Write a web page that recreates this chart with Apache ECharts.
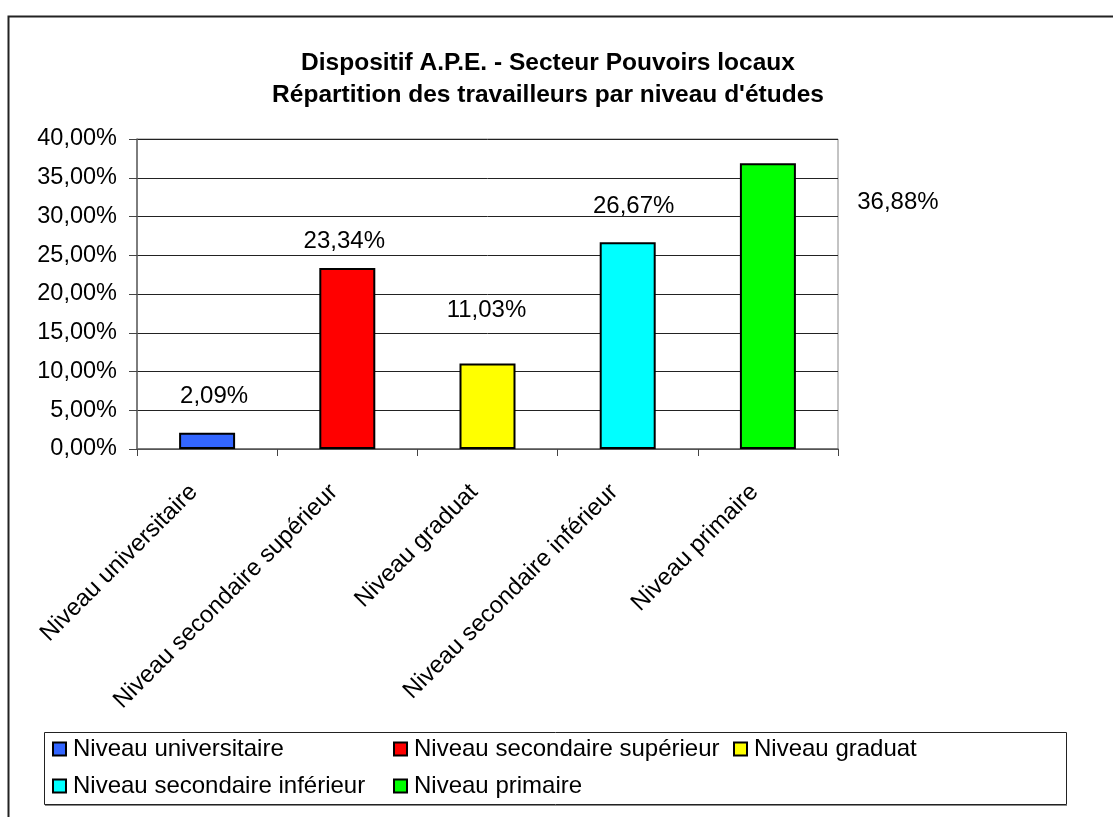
<!DOCTYPE html>
<html>
<head>
<meta charset="utf-8">
<script src="https://cdn.jsdelivr.net/npm/echarts@6/dist/echarts.min.js"></script>
<style>
html,body{margin:0;padding:0;background:#fff;}
#main{width:1113px;height:817px;}
</style>
</head>
<body>
<div id="main"></div>
<script>
const titleLines = ['Dispositif A.P.E. - Secteur Pouvoirs locaux', "Répartition des travailleurs par niveau d'études"];
const categories = ['Niveau universitaire', 'Niveau secondaire supérieur', 'Niveau graduat', 'Niveau secondaire inférieur', 'Niveau primaire'];
const values = [2.09, 23.34, 11.03, 26.67, 36.88];
const colors = ['#3366FF', '#FF0000', '#FFFF00', '#00FFFF', '#00FF00'];
const yTicks = [0, 5, 10, 15, 20, 25, 30, 35, 40];
// manual label displacements (as placed in the original chart)
const labelOffsets = [[7, -19], [-3, -10], [-1, -36], [6, -19], [130, 56]];
// legend placement: [left, top]
const legendPos = [[52, 737], [393, 737], [733, 737], [52, 774], [393, 774]];

const FONT = "'Liberation Sans', Arial, sans-serif";
const fmt = v => v.toFixed(2).replace('.', ',') + '%';

const chart = echarts.init(document.getElementById('main'), null, {renderer: 'canvas'});

const series = categories.map((name, i) => ({
  name: name,
  type: 'bar',
  stack: 'all',
  barWidth: 56,
  data: categories.map((c, j) => j === i ? values[i] : '-'),
  itemStyle: {color: colors[i], borderColor: '#000', borderWidth: 2},
  label: {
    show: true,
    position: 'top',
    distance: 5,
    offset: labelOffsets[i],
    formatter: p => fmt(p.value),
    color: '#000',
    fontFamily: FONT,
    fontSize: 24
  },
  emphasis: {disabled: true}
}));

const legends = categories.map((name, i) => ({
  data: [name],
  left: legendPos[i][0],
  top: legendPos[i][1],
  orient: 'horizontal',
  itemWidth: 13,
  itemHeight: 13,
  icon: 'rect',
  selectedMode: false,
  padding: 0,
  itemStyle: {borderColor: '#000', borderWidth: 2},
  textStyle: {fontFamily: FONT, fontSize: 24, color: '#000', padding: [0, 0, 0, 2]}
}));

chart.setOption({
  animation: false,
  backgroundColor: '#fff',
  title: {
    text: titleLines.join('\n'),
    left: 543,
    textAlign: 'center',
    top: 42,
    textStyle: {fontFamily: FONT, fontSize: 24.5, fontWeight: 'bold', color: '#000', lineHeight: 32}
  },
  legend: legends,
  grid: {left: 137, top: 139, right: 275, bottom: 368, show: true, borderColor: '#888', borderWidth: 1, containLabel: false},
  xAxis: {
    type: 'category',
    data: categories,
    axisLine: {lineStyle: {color: '#666', width: 1.5}},
    axisTick: {show: true, length: 7, lineStyle: {color: '#444'}},
    axisLabel: {rotate: 45, margin: 26, color: '#000', fontFamily: FONT, fontSize: 24, interval: 0, padding: [0, 19, 0, 0]}
  },
  yAxis: {
    type: 'value',
    min: yTicks[0],
    max: yTicks[yTicks.length - 1],
    interval: yTicks[1] - yTicks[0],
    axisLine: {show: true, lineStyle: {color: '#666', width: 1.5}},
    axisTick: {show: true, length: 8, lineStyle: {color: '#444'}},
    splitLine: {lineStyle: {color: '#222', width: 1}},
    axisLabel: {margin: 20, color: '#000', fontFamily: FONT, fontSize: 23.5, formatter: v => fmt(v)}
  },
  series: series,
  graphic: [
    {type: 'rect', silent: true, z: -1, shape: {x: 8.5, y: 16.5, width: 1200, height: 900}, style: {fill: null, stroke: '#222', lineWidth: 2}},
    {type: 'rect', silent: true, z: -1, shape: {x: 44.5, y: 732.5, width: 1022, height: 72}, style: {fill: null, stroke: '#222', lineWidth: 1}},
    {type: 'line', silent: true, z: -1, shape: {x1: 45, y1: 805.5, x2: 1067, y2: 805.5}, style: {stroke: '#888', lineWidth: 1}}
  ]
});
</script>
</body>
</html>
